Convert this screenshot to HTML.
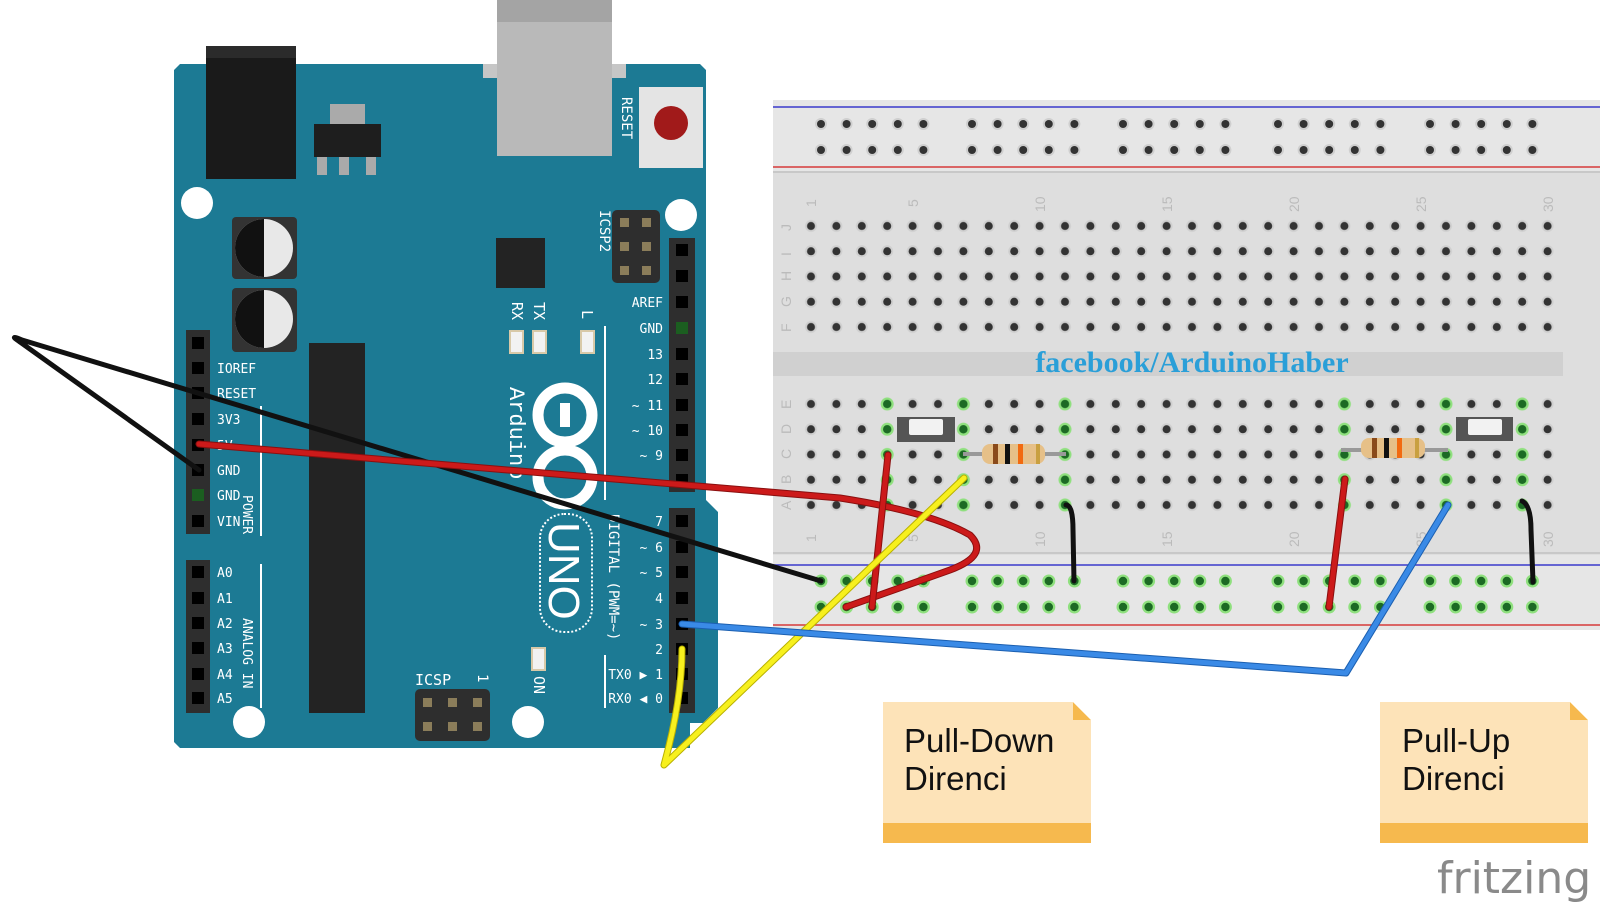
<!DOCTYPE html>
<html><head><meta charset="utf-8"><style>
html,body{margin:0;padding:0;background:#fff;}
svg{display:block;}
.m{font-family:"DejaVu Sans Mono","Liberation Mono",monospace;fill:#fff;font-size:13px;}
</style></head><body>
<svg width="1600" height="909" viewBox="0 0 1600 909" xmlns="http://www.w3.org/2000/svg">
<defs>
<pattern id="pU" patternUnits="userSpaceOnUse" x="798.3" y="213.4" width="25.4" height="25.25"><circle cx="12.7" cy="12.6" r="6" fill="#cfcfcf"/><circle cx="12.7" cy="12.6" r="4" fill="#333"/></pattern>
<pattern id="pL" patternUnits="userSpaceOnUse" x="798.3" y="391.4" width="25.4" height="25.25"><circle cx="12.7" cy="12.6" r="6" fill="#cfcfcf"/><circle cx="12.7" cy="12.6" r="4" fill="#333"/></pattern>
<pattern id="pG" patternUnits="userSpaceOnUse" x="798.3" y="391.4" width="25.4" height="25.25"><circle cx="12.7" cy="12.6" r="6.5" fill="#8fe07e"/><circle cx="12.7" cy="12.6" r="4.2" fill="#1c6a24"/></pattern>
<g id="bk"><circle r="6" fill="#cfcfcf"/><circle r="4" fill="#333"/></g>
<g id="gr"><circle r="6.5" fill="#8fe07e"/><circle r="4.2" fill="#1c6a24"/></g>
<g id="t5"><use href="#bk" x="0" y="124"/><use href="#bk" x="25.6" y="124"/><use href="#bk" x="51.2" y="124"/><use href="#bk" x="76.8" y="124"/><use href="#bk" x="102.4" y="124"/><use href="#bk" x="0" y="150"/><use href="#bk" x="25.6" y="150"/><use href="#bk" x="51.2" y="150"/><use href="#bk" x="76.8" y="150"/><use href="#bk" x="102.4" y="150"/></g>
<g id="b5"><use href="#gr" x="0" y="581"/><use href="#gr" x="25.6" y="581"/><use href="#gr" x="51.2" y="581"/><use href="#gr" x="76.8" y="581"/><use href="#gr" x="102.4" y="581"/><use href="#gr" x="0" y="607"/><use href="#gr" x="25.6" y="607"/><use href="#gr" x="51.2" y="607"/><use href="#gr" x="76.8" y="607"/><use href="#gr" x="102.4" y="607"/></g>
</defs>

<!-- Arduino board -->
<polygon points="180,64 700,64 706,70 706,500 718,512 718,708 703,723 690,723 690,748 180,748 174,742 174,70" fill="#1c7a94"/>
<rect x="483" y="64" width="143" height="14" fill="#c6c6c6"/>
<rect x="497" y="0" width="115" height="156" fill="#b9b9b9"/>
<rect x="497" y="0" width="115" height="22" fill="#a4a4a4"/>
<rect x="206" y="46" width="90" height="133" fill="#1a1a1a"/>
<rect x="206" y="46" width="90" height="12" fill="#2b2b2b"/>
<rect x="330" y="104" width="35" height="22" fill="#aaa"/>
<rect x="314" y="124" width="67" height="33" fill="#1e1e1e"/>
<rect x="317" y="157" width="10" height="18" fill="#aaa"/><rect x="339" y="157" width="10" height="18" fill="#aaa"/><rect x="366" y="157" width="10" height="18" fill="#aaa"/>
<rect x="639" y="87" width="64" height="81" fill="#e4e4e4"/>
<circle cx="671" cy="123" r="17" fill="#a11a1a"/>
<text x="0" y="0" transform="translate(622,97) rotate(90)" class="m" style="font-size:14px">RESET</text>
<circle cx="197" cy="203" r="16" fill="#fff"/><circle cx="681" cy="215" r="16" fill="#fff"/>
<circle cx="249" cy="722" r="16" fill="#fff"/><circle cx="528" cy="722" r="16" fill="#fff"/>
<rect x="232" y="217" width="65" height="62" rx="4" fill="#333"/>
<rect x="232" y="288" width="65" height="64" rx="4" fill="#333"/>
<circle cx="264" cy="248" r="29" fill="#e8e8e8"/><path d="M264,219 A29,29 0 0 0 264,277 Z" fill="#111"/>
<circle cx="264" cy="319" r="29" fill="#e8e8e8"/><path d="M264,290 A29,29 0 0 0 264,348 Z" fill="#111"/>
<rect x="309" y="343" width="56" height="370" fill="#232323"/>
<rect x="496" y="238" width="49" height="50" fill="#232323"/>
<rect x="612" y="210" width="48" height="73" rx="5" fill="#2e2e2e"/>
<g fill="#8b7d5a"><rect x="620" y="218" width="9" height="9"/><rect x="642" y="218" width="9" height="9"/><rect x="620" y="242" width="9" height="9"/><rect x="642" y="242" width="9" height="9"/><rect x="620" y="266" width="9" height="9"/><rect x="642" y="266" width="9" height="9"/></g>
<text transform="translate(600,210) rotate(90)" class="m" style="font-size:14px">ICSP2</text>
<rect x="415" y="689" width="75" height="52" rx="5" fill="#2e2e2e"/>
<g fill="#8b7d5a"><rect x="423" y="698" width="9" height="9"/><rect x="448" y="698" width="9" height="9"/><rect x="473" y="698" width="9" height="9"/><rect x="423" y="722" width="9" height="9"/><rect x="448" y="722" width="9" height="9"/><rect x="473" y="722" width="9" height="9"/></g>
<text x="415" y="685" class="m" style="font-size:15px">ICSP</text>
<text transform="translate(478,674) rotate(90)" class="m" style="font-size:14px">1</text>
<g fill="#f2f2f2" stroke="#d8c9a8" stroke-width="2"><rect x="510" y="331" width="13" height="22"/><rect x="533" y="331" width="13" height="22"/><rect x="581" y="331" width="13" height="22"/><rect x="532" y="648" width="13" height="22"/></g>
<text transform="translate(512,302) rotate(90)" class="m" style="font-size:15px">RX</text>
<text transform="translate(534,302) rotate(90)" class="m" style="font-size:15px">TX</text>
<text transform="translate(582,310) rotate(90)" class="m" style="font-size:15px">L</text>
<text transform="translate(534,676) rotate(90)" class="m" style="font-size:15px">ON</text>
<circle cx="565" cy="415" r="27" fill="none" stroke="#fff" stroke-width="11"/>
<circle cx="565" cy="477" r="27" fill="none" stroke="#fff" stroke-width="11"/>
<rect x="560" y="403" width="10" height="24" fill="#fff"/>
<rect x="540" y="514" width="52" height="118" rx="24" fill="none" stroke="#fff" stroke-width="2" stroke-dasharray="2,2"/>
<text transform="translate(549,522) rotate(90)" font-family="Liberation Sans,sans-serif" font-size="44" fill="#fff">UNO</text>
<text transform="translate(510,387) rotate(90)" font-family="Liberation Mono,monospace" font-size="22" fill="#fff">Arduino</text>
<g stroke="#fff" stroke-width="2"><line x1="605" y1="326" x2="605" y2="500"/><line x1="605" y1="655" x2="605" y2="708"/><line x1="261" y1="406" x2="261" y2="536"/><line x1="261" y1="564" x2="261" y2="708"/></g>
<text transform="translate(609,514) rotate(90)" class="m" style="font-size:14px">DIGITAL (PWM=~)</text>
<text transform="translate(243,495) rotate(90)" class="m">POWER</text>
<text transform="translate(243,618) rotate(90)" class="m">ANALOG IN</text>
<rect x="669" y="238" width="26" height="254" fill="#2e2e2e"/>
<rect x="669" y="508" width="26" height="205" fill="#2e2e2e"/>
<rect x="186" y="330" width="24" height="204" fill="#2e2e2e"/>
<rect x="186" y="560" width="24" height="153" fill="#2e2e2e"/>
<g fill="#000">
<rect x="676" y="244" width="12" height="12"/><rect x="676" y="270" width="12" height="12"/><rect x="676" y="296" width="12" height="12"/><rect x="676" y="322" width="12" height="12" fill="#1b5e20"/><rect x="676" y="348" width="12" height="12"/><rect x="676" y="373" width="12" height="12"/><rect x="676" y="399" width="12" height="12"/><rect x="676" y="424" width="12" height="12"/><rect x="676" y="449" width="12" height="12"/><rect x="676" y="474" width="12" height="12"/>
<rect x="676" y="515" width="12" height="12"/><rect x="676" y="541" width="12" height="12"/><rect x="676" y="566" width="12" height="12"/><rect x="676" y="592" width="12" height="12"/><rect x="676" y="618" width="12" height="12"/><rect x="676" y="643" width="12" height="12"/><rect x="676" y="668" width="12" height="12"/><rect x="676" y="692" width="12" height="12"/>
<rect x="192" y="337" width="12" height="12"/><rect x="192" y="362" width="12" height="12"/><rect x="192" y="387" width="12" height="12"/><rect x="192" y="413" width="12" height="12"/><rect x="192" y="439" width="12" height="12"/><rect x="192" y="464" width="12" height="12"/><rect x="192" y="489" width="12" height="12" fill="#1b5e20"/><rect x="192" y="515" width="12" height="12"/>
<rect x="192" y="566" width="12" height="12"/><rect x="192" y="592" width="12" height="12"/><rect x="192" y="617" width="12" height="12"/><rect x="192" y="642" width="12" height="12"/><rect x="192" y="668" width="12" height="12"/><rect x="192" y="692" width="12" height="12"/>
</g>
<g class="m" text-anchor="end">
<text x="663" y="307">AREF</text><text x="663" y="333">GND</text><text x="663" y="359">13</text><text x="663" y="384">12</text><text x="663" y="410">~ 11</text><text x="663" y="435">~ 10</text><text x="663" y="460">~ 9</text>
<text x="663" y="526">7</text><text x="663" y="552">~ 6</text><text x="663" y="577">~ 5</text><text x="663" y="603">4</text><text x="663" y="629">~ 3</text><text x="663" y="654">2</text><text x="663" y="679">TX0 ▶ 1</text><text x="663" y="703">RX0 ◀ 0</text>
</g>
<g class="m">
<text x="217" y="373">IOREF</text><text x="217" y="398">RESET</text><text x="217" y="424">3V3</text><text x="217" y="450">5V</text><text x="217" y="475">GND</text><text x="217" y="500">GND</text><text x="217" y="526">VIN</text>
<text x="217" y="577">A0</text><text x="217" y="603">A1</text><text x="217" y="628">A2</text><text x="217" y="653">A3</text><text x="217" y="679">A4</text><text x="217" y="703">A5</text>
</g>

<!-- Breadboard -->
<rect x="773" y="100" width="827" height="530" fill="#dedede"/>
<rect x="773" y="100" width="827" height="72" fill="#e6e6e6"/>
<rect x="773" y="555" width="827" height="75" fill="#e6e6e6"/>
<rect x="773" y="352" width="790" height="24" fill="#d0d0d0"/>
<line x1="773" y1="107" x2="1600" y2="107" stroke="#3a3acb" stroke-width="1.5"/>
<line x1="773" y1="167" x2="1600" y2="167" stroke="#d63a3a" stroke-width="1.5"/>
<line x1="773" y1="565" x2="1600" y2="565" stroke="#3a3acb" stroke-width="1.5"/>
<line x1="773" y1="625" x2="1600" y2="625" stroke="#d63a3a" stroke-width="1.5"/>
<line x1="773" y1="172" x2="1600" y2="172" stroke="#c8c8c8" stroke-width="2"/>
<line x1="773" y1="553" x2="1600" y2="553" stroke="#c8c8c8" stroke-width="2"/>
<rect x="798.3" y="213.4" width="762" height="126.25" fill="url(#pU)"/>
<rect x="798.3" y="391.4" width="762" height="126.25" fill="url(#pL)"/>
<g fill="url(#pG)">
<rect x="874.5" y="391.4" width="25.4" height="126.25"/><rect x="950.7" y="391.4" width="25.4" height="126.25"/><rect x="1052.3" y="391.4" width="25.4" height="126.25"/><rect x="1331.7" y="391.4" width="25.4" height="126.25"/><rect x="1433.3" y="391.4" width="25.4" height="126.25"/><rect x="1509.5" y="391.4" width="25.4" height="126.25"/>
</g>
<use href="#t5" x="821"/><use href="#t5" x="972"/><use href="#t5" x="1123"/><use href="#t5" x="1278"/><use href="#t5" x="1430"/>
<use href="#b5" x="821"/><use href="#b5" x="972"/><use href="#b5" x="1123"/><use href="#b5" x="1278"/><use href="#b5" x="1430"/>
<g font-family="Liberation Sans,sans-serif" font-size="14" fill="#bbb">
<text transform="translate(816,207) rotate(-90)">1</text><text transform="translate(918,207) rotate(-90)">5</text><text transform="translate(1045,212) rotate(-90)">10</text><text transform="translate(1172,212) rotate(-90)">15</text><text transform="translate(1299,212) rotate(-90)">20</text><text transform="translate(1426,212) rotate(-90)">25</text><text transform="translate(1553,212) rotate(-90)">30</text>
<text transform="translate(816,542) rotate(-90)">1</text><text transform="translate(918,542) rotate(-90)">5</text><text transform="translate(1045,547) rotate(-90)">10</text><text transform="translate(1172,547) rotate(-90)">15</text><text transform="translate(1299,547) rotate(-90)">20</text><text transform="translate(1426,547) rotate(-90)">25</text><text transform="translate(1553,547) rotate(-90)">30</text>
<text transform="translate(791,231) rotate(-90)">J</text><text transform="translate(791,256) rotate(-90)">I</text><text transform="translate(791,281) rotate(-90)">H</text><text transform="translate(791,307) rotate(-90)">G</text><text transform="translate(791,332) rotate(-90)">F</text>
<text transform="translate(791,409) rotate(-90)">E</text><text transform="translate(791,434) rotate(-90)">D</text><text transform="translate(791,459) rotate(-90)">C</text><text transform="translate(791,484) rotate(-90)">B</text><text transform="translate(791,510) rotate(-90)">A</text>
</g>
<text x="1192" y="372" text-anchor="middle" font-family="Liberation Serif,serif" font-weight="bold" font-size="30" fill="#2a9fd8">facebook/ArduinoHaber</text>

<rect x="897" y="417" width="58" height="25" fill="#555"/><rect x="909" y="419" width="34" height="16" rx="2" fill="#f2f2f2"/>
<rect x="1456" y="417" width="57" height="24" fill="#555"/><rect x="1468" y="419" width="34" height="16" rx="2" fill="#f2f2f2"/>
<line x1="963" y1="454" x2="1066" y2="454" stroke="#999" stroke-width="4"/>
<rect x="982" y="444" width="63" height="20" rx="8" fill="#e6c088"/>
<rect x="993" y="444" width="5" height="20" fill="#8a4a1a"/><rect x="1005" y="444" width="5" height="20" fill="#111"/><rect x="1018" y="444" width="5" height="20" fill="#f26a10"/><rect x="1036" y="444" width="4" height="20" fill="#c9a040"/>
<line x1="1341" y1="450" x2="1448" y2="450" stroke="#999" stroke-width="4"/>
<rect x="1361" y="438" width="64" height="20" rx="8" fill="#e6c088"/>
<rect x="1372" y="438" width="5" height="20" fill="#8a4a1a"/><rect x="1384" y="438" width="5" height="20" fill="#111"/><rect x="1397" y="438" width="5" height="20" fill="#f26a10"/><rect x="1415" y="438" width="4" height="20" fill="#c9a040"/>

<g fill="none" stroke-linecap="round" stroke-linejoin="round">
<path d="M199,470 L20,342 Q8,334 22,340 L821,581" stroke="#111" stroke-width="5"/>
<path d="M199,444 L840,498 Q930,512 970,535 Q990,555 950,570 L846,607" stroke="#8a0f0f" stroke-width="7"/>
<path d="M199,444 L840,498 Q930,512 970,535 Q990,555 950,570 L846,607" stroke="#cc1a1a" stroke-width="5"/>
<path d="M888,455 L872,607" stroke="#8a0f0f" stroke-width="7"/><path d="M888,455 L872,607" stroke="#cc1a1a" stroke-width="5"/>
<path d="M1345,479 L1329,607" stroke="#8a0f0f" stroke-width="7"/><path d="M1345,479 L1329,607" stroke="#cc1a1a" stroke-width="5"/>
<path d="M682,649 Q682,700 664,765 L964,478" stroke="#b8b000" stroke-width="7"/>
<path d="M682,649 Q682,700 664,765 L964,478" stroke="#f7f01e" stroke-width="5"/>
<path d="M682,624 L1346,673 L1448,505" stroke="#1b5fb0" stroke-width="7"/>
<path d="M682,624 L1346,673 L1448,505" stroke="#3a8ae6" stroke-width="5"/>
<path d="M1066,505 Q1073,505 1073,530 L1074,581" stroke="#111" stroke-width="5"/>
<path d="M1522,501 Q1531,505 1531,530 L1533,582" stroke="#111" stroke-width="5"/>
</g>

<rect x="883" y="702" width="208" height="141" fill="#fde3b8"/><rect x="883" y="823" width="208" height="20" fill="#f6b94e"/>
<polygon points="1073,702 1091,720 1073,720" fill="#f6b94e"/><polygon points="1073,702 1091,702 1091,720" fill="#fff"/>
<rect x="1380" y="702" width="208" height="141" fill="#fde3b8"/><rect x="1380" y="823" width="208" height="20" fill="#f6b94e"/>
<polygon points="1570,702 1588,720 1570,720" fill="#f6b94e"/><polygon points="1570,702 1588,702 1588,720" fill="#fff"/>
<g font-family="Liberation Sans,sans-serif" font-size="33" fill="#111">
<text x="904" y="752">Pull-Down</text><text x="904" y="790">Direnci</text>
<text x="1402" y="752">Pull-Up</text><text x="1402" y="790">Direnci</text>
</g>
<text x="1437" y="893" font-family="DejaVu Sans,sans-serif" font-size="44" fill="#8a8a8a">fritzing</text>
</svg>
</body></html>
